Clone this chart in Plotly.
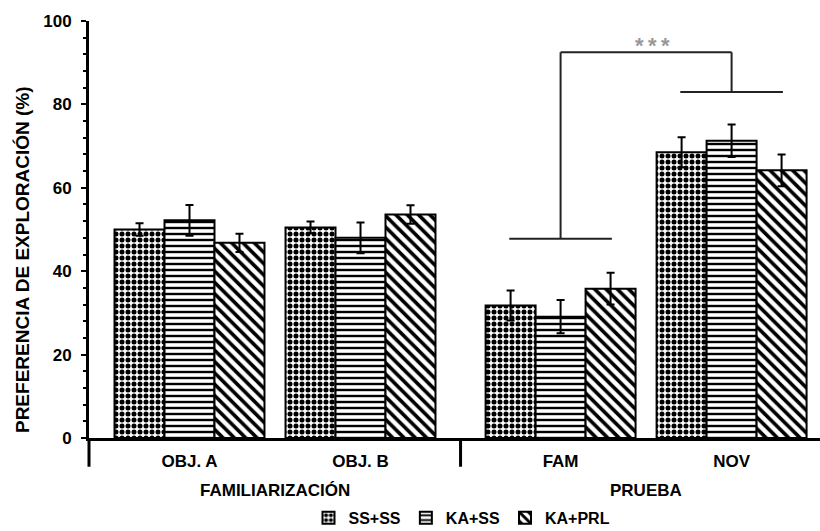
import plotly.graph_objects as go

# ---- data ----
categories = ["OBJ. A", "OBJ. B", "FAM", "NOV"]
groups = ["FAMILIARIZACIÓN", "PRUEBA"]
series = ["SS+SS", "KA+SS", "KA+PRL"]
ss_ss = [50.0, 50.5, 31.8, 68.5]
ka_ss = [52.2, 48.0, 29.1, 71.3]
ka_prl = [46.8, 53.6, 35.8, 64.2]
err_ss_ss = [1.5, 1.4, 3.6, 3.6]
err_ka_ss = [3.7, 3.7, 4.0, 3.9]
err_ka_prl = [2.2, 2.2, 3.8, 3.8]
y_ticks = [0, 20, 40, 60, 80, 100]
sig_low = [47.8, 83.0]   # bracket feet (FAM, NOV)
sig_top = 92.5
sig_text = "*\u2009*\u2009*"

# ---- layout helpers ----
cat_x = [0, 1, 2.17, 3.17]
FONT = "Liberation Sans, Arial, sans-serif"
W, H = 820, 531
ML, MR, MT, MB = 89, 0, 21, 93
x_range = [-0.5877, 3.687]

values = [ss_ss, ka_ss, ka_prl]
errors = [err_ss_ss, err_ka_ss, err_ka_prl]
patterns = [dict(shape=".", size=6, solidity=0.55),
            dict(shape="-", size=6, solidity=0.4),
            dict(shape="\\", size=8, solidity=0.45)]

fig = go.Figure()
for name, vals, errs, pat in zip(series, values, errors, patterns):
    fig.add_trace(go.Bar(
        x=cat_x, y=vals, name=name,
        marker=dict(color="white",
                    line=dict(color="black", width=2),
                    pattern=dict(fgcolor="black", bgcolor="white", fillmode="replace", **pat)),
        error_y=dict(type="data", array=errs, visible=True,
                     color="black", thickness=2, width=4),
    ))

shapes = []
# category dividers below axis
div_y1 = -(467 - 438.3) / 416.6
shapes.append(dict(type="line", xref="paper", yref="paper", x0=0, x1=0, y0=0, y1=div_y1,
                   line=dict(color="black", width=3)))
sep = (cat_x[1] + cat_x[2]) / 2
shapes.append(dict(type="line", xref="x", yref="paper", x0=sep, x1=sep, y0=0, y1=div_y1,
                   line=dict(color="black", width=3)))

# significance bracket
half = 0.3
bc = dict(color="#222222", width=2)
for cx, low in zip(cat_x[2:], sig_low):
    shapes.append(dict(type="line", xref="x", yref="y", x0=cx - half, x1=cx + half,
                       y0=low, y1=low, line=bc))
    shapes.append(dict(type="line", xref="x", yref="y", x0=cx, x1=cx,
                       y0=low, y1=sig_top, line=bc))
shapes.append(dict(type="line", xref="x", yref="y", x0=cat_x[2], x1=cat_x[3],
                   y0=sig_top, y1=sig_top, line=bc))

annotations = [
    dict(text=sig_text, x=(cat_x[2] + cat_x[3]) / 2 + 0.04, y=sig_top + 1.6,
         xref="x", yref="y", showarrow=False, yanchor="middle",
         font=dict(family=FONT, size=22, color="#999999", weight="bold")),
    dict(text="PREFERENCIA DE EXPLORACIÓN (%)", textangle=-90,
         x=(22 - ML) / (W - ML - MR), y=(438.3 - 260.5) / 416.6,
         xref="paper", yref="paper", showarrow=False,
         xanchor="center", yanchor="middle",
         font=dict(family=FONT, size=19, color="black", weight="bold")),
]
gy = (438.3 - 491) / 416.6
annotations.append(dict(text=groups[0], x=(cat_x[0] + cat_x[1]) / 2, y=gy, xref="x", yref="paper",
                        showarrow=False, xanchor="center", yanchor="middle",
                        font=dict(family=FONT, size=17, color="black", weight="bold")))
annotations.append(dict(text=groups[1], x=(cat_x[2] + cat_x[3]) / 2, y=gy, xref="x", yref="paper",
                        showarrow=False, xanchor="center", yanchor="middle",
                        font=dict(family=FONT, size=17, color="black", weight="bold")))

fig.update_layout(
    width=W, height=H,
    margin=dict(l=ML, r=MR, t=MT, b=MB, autoexpand=False),
    paper_bgcolor="white", plot_bgcolor="white",
    barmode="group", bargap=0.123, bargroupgap=0,
    showlegend=True,
    legend=dict(orientation="h", x=(462 - ML) / (W - ML - MR), xanchor="center",
                y=(438.3 - 518) / 416.6, yanchor="middle",
                font=dict(family=FONT, size=16, color="black", weight="bold"),
                itemwidth=30, traceorder="normal"),
    shapes=shapes, annotations=annotations,
    xaxis=dict(type="linear", range=x_range, tickvals=cat_x, ticktext=categories,
               showline=True, linecolor="black", linewidth=3, ticks="",
               showgrid=False, zeroline=False, ticklabelstandoff=6,
               tickfont=dict(family=FONT, size=17, color="black", weight="bold")),
    yaxis=dict(range=[0, 100], tickvals=y_ticks, showline=True, linecolor="black", linewidth=3,
               ticks="outside", ticklen=5, tickwidth=2, tickcolor="black",
               minor=dict(dtick=4, ticks="outside", ticklen=3, tickwidth=2, tickcolor="black"),
               showgrid=False, zeroline=False, ticklabelstandoff=6,
               tickfont=dict(family=FONT, size=17, color="black", weight="bold")),
)

fig.write_html("out.html")
